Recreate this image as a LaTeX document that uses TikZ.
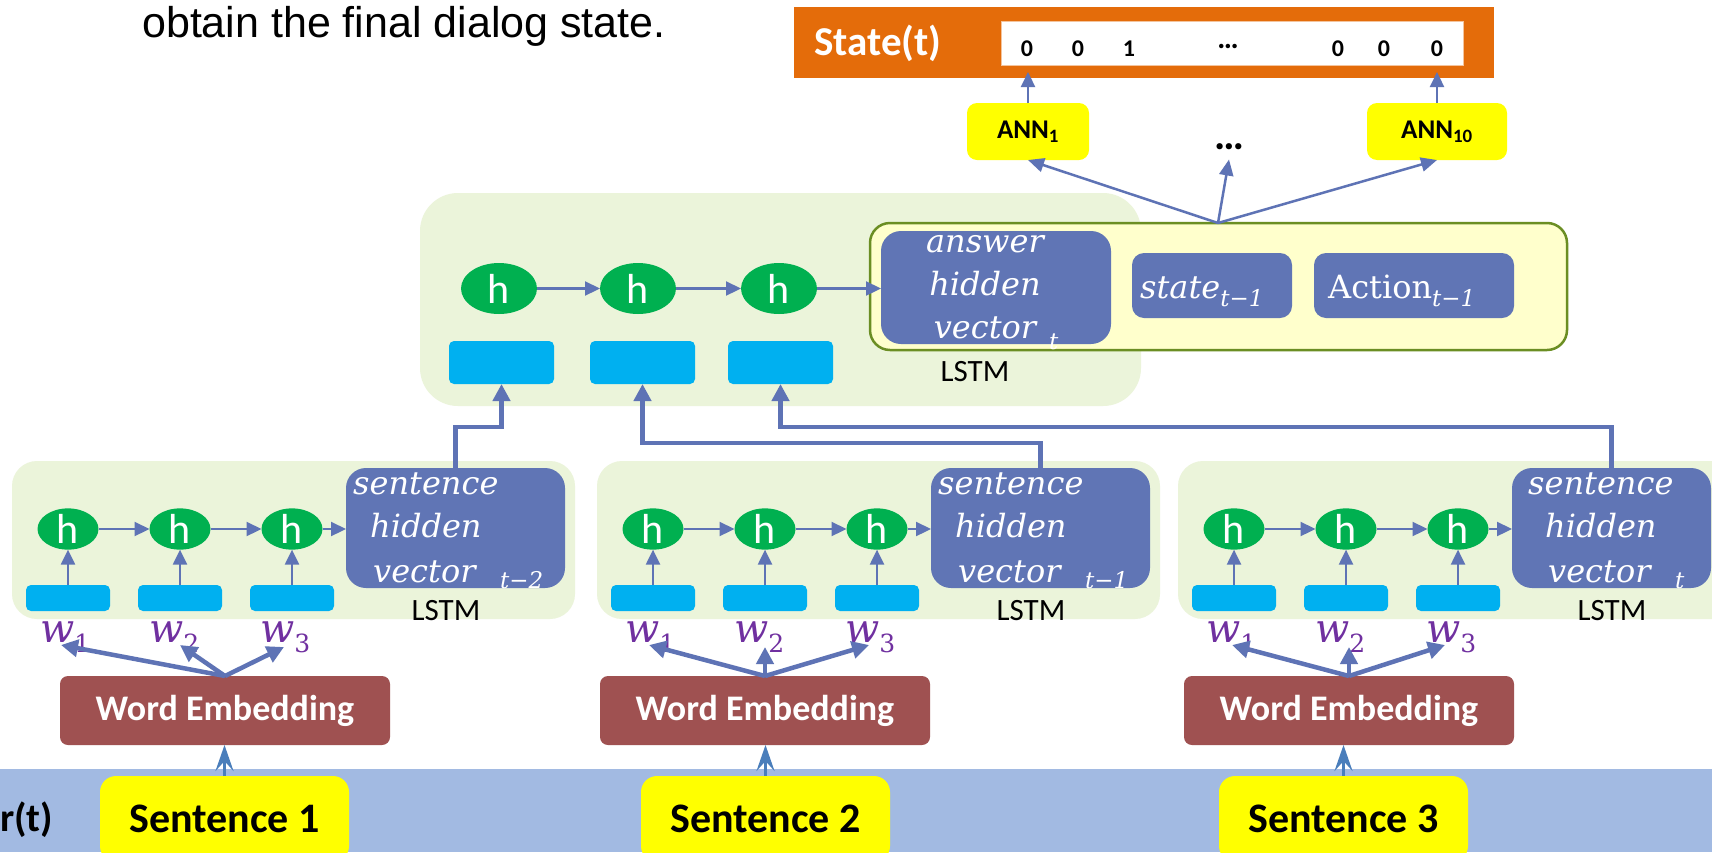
\RequirePackage{fix-cm}
\documentclass[tikz,border=0pt]{standalone}
\usepackage{fontspec}
\newfontfamily\carl{Carlito}
\newfontfamily\arialf{Liberation Sans}
\newfontfamily\cmi{DejaVu Serif}
\usetikzlibrary{arrows.meta,shapes.geometric}
\definecolor{orng}{HTML}{E46C0A}
\definecolor{pgreen}{HTML}{EBF4DA}
\definecolor{hgreen}{HTML}{00B050}
\definecolor{cyanbox}{HTML}{00B0F0}
\definecolor{bluebox}{HTML}{6075B5}
\definecolor{ansbg}{HTML}{FFFFCC}
\definecolor{ansline}{HTML}{6B8E23}
\definecolor{wemb}{HTML}{9F5151}
\definecolor{band}{HTML}{A2BAE2}
\definecolor{arr}{HTML}{5E73B5}
\definecolor{sarr}{HTML}{4A7EBB}
\definecolor{wpurple}{HTML}{7030A0}
\definecolor{ylw}{HTML}{FFFF00}
\newcommand\fsz[1]{\fontsize{#1}{#1}\selectfont}
\newcommand\lowsub[3]{{\fsz{#2}\raisebox{-#1pt}{#3}}}
\newcommand\bx[7]{%
  \pgfmathsetmacro\bxcx{((#3)+(#5))/2}%
  \pgfmathsetmacro\bxcy{((#4)+(#6))/2}%
  \pgfmathsetmacro\bxw{(#5)-(#3)}%
  \pgfmathsetmacro\bxh{(#6)-(#4)}%
  \node[#2,minimum width=\bxw pt,minimum height=\bxh pt,inner sep=0pt,outer sep=0pt] (#1) at (\bxcx,\bxcy) {#7};}
\begin{document}
\begin{tikzpicture}[x=1pt,y=-1pt,
  panelbox/.style={fill=pgreen,rounded corners=25pt},
  toppanel/.style={fill=pgreen,rounded corners=38pt},
  hidbox/.style={fill=bluebox,rounded corners=20pt},
  smallblue/.style={fill=bluebox,rounded corners=12pt},
  cyanrect/.style={fill=cyanbox,rounded corners=5pt},
  hnode/.style={ellipse,fill=hgreen,text=white,font=\carl\fsz{42}},
  vtext/.style={text=white,font=\cmi\itshape\fsz{32},inner sep=0pt,anchor=base west},
  ctext/.style={text=white,font=\cmi\itshape\fsz{32},inner sep=0pt,anchor=base},
  subtext/.style={text=white,font=\cmi\itshape\fsz{23},inner sep=0pt,anchor=base west},
  lstm/.style={font=\carl\fsz{31},inner sep=0pt},
  wlabel/.style={text=wpurple,font=\cmi\itshape\fsz{40},inner sep=0pt,anchor=base west},
  webox/.style={fill=wemb,rounded corners=8pt,text=white,font=\carl\bfseries\fsz{36}},
  sentbox/.style={fill=ylw,rounded corners=16pt,font=\carl\bfseries\fsz{42}},
  annbox/.style={fill=ylw,rounded corners=10pt,font=\carl\bfseries\fsz{27}},
  digit/.style={font=\carl\bfseries\fsz{24},inner sep=0pt,anchor=base},
  thinarr/.style={draw=arr,line width=2.2pt,-{Triangle[length=15pt,width=14pt]}},
  thickarr/.style={draw=arr,line width=4.5pt,-{Triangle[length=17pt,width=17pt]}},
  hubarr/.style={draw=arr,line width=2.5pt,-{Triangle[length=16pt,width=14pt]}},
  sentarr/.style={draw=sarr,line width=3pt,-{Stealth[length=26pt,width=18pt,inset=10pt]}}
]
\useasboundingbox (0,0) rectangle (1712,852);
\fill[white] (0,0) rectangle (1712,852);
\fill[band] (0,769) rectangle (1712,852);

\node[font=\arialf\fsz{43},anchor=base west,inner sep=0pt] (intro) at (142,37) {obtain the final dialog state.};

% state bar
\bx{bar}{fill=orng}{794}{7}{1494}{78}{}
\node[text=white,font=\carl\bfseries\fsz{41},inner sep=0pt] (stlabel) at (878,43) {State(t)};
\bx{vec}{fill=white,draw=orng!40,line width=1pt}{1001}{21}{1463}{65}{}
\node[digit] (d1) at (1027,56) {0};
\node[digit] (d2) at (1078,56) {0};
\node[digit] (d3) at (1129,56) {1};
\node[font=\carl\bfseries\fsz{30},inner sep=0pt,anchor=base] (d4) at (1228,48) {…};
\node[digit] (d5) at (1338,56) {0};
\node[digit] (d6) at (1384,56) {0};
\node[digit] (d7) at (1437,56) {0};

% ANN boxes
\bx{ann1}{annbox}{967}{103}{1089}{160}{ANN\textsubscript{1}}
\bx{ann10}{annbox}{1367}{103}{1507}{160}{ANN\textsubscript{10}}
\node[font=\carl\bfseries\fsz{42},anchor=base,inner sep=0pt] (dots) at (1229,149) {…};

% top panel
\bx{tp}{toppanel}{420}{193}{1141}{406}{}
\bx{te1}{hnode}{461}{263}{537}{314}{h}
\bx{te2}{hnode}{600}{263}{676}{314}{h}
\bx{te3}{hnode}{741}{263}{817}{314}{h}
\bx{tr1}{cyanrect}{449}{341}{554}{384}{}
\bx{tr2}{cyanrect}{590}{341}{695}{384}{}
\bx{tr3}{cyanrect}{728}{341}{833}{384}{}
\node[lstm] (toplstm) at (975,372) {LSTM};

% answer panel
\bx{ansp}{fill=ansbg,draw=ansline,line width=2.5pt,rounded corners=20pt}{870}{223}{1567}{350}{}
\coordinate (hub) at (1218,223);
\bx{ans}{hidbox}{881}{231}{1111}{344}{}
\node[ctext] (a1) at (985,252) {answer};
\node[ctext] (a2) at (985,295) {hidden};
\node[ctext] (a3) at (985,338) {vector};
\node[subtext] (a4) at (1049,349) {t};
\bx{st}{smallblue}{1132}{253}{1292}{318}{}
\node[vtext] (stt) at (1140,298) {state\lowsub{8}{23}{t−1}};
\bx{act}{smallblue}{1314}{253}{1514}{318}{}
\node[vtext,font=\cmi\fsz{32}] (actt) at (1328,298) {Action\lowsub{8}{23}{\itshape t−1}};

\draw[thinarr] (te1) -- (te2);
\draw[thinarr] (te2) -- (te3);
\draw[thinarr] (te3.east) -- (te3.east -| ans.west);

% bottom panels
\foreach \p/\dx/\tdx/\hr/\sub/\wx/\sx in {1/0/0/565/t−2/60/100, 2/585/585/1150/t−1/600/641, 3/1166/1175/1711/t/1184/1219} {
  \bx{bp\p}{panelbox}{12+\dx}{461}{575+\dx}{619}{}
  \bx{hv\p}{hidbox}{346+\dx}{468}{\hr}{588}{}
  \node[vtext] (hs\p) at (353+\tdx,494) {sentence};
  \node[vtext] (hh\p) at (370+\tdx,537) {hidden};
  \node[vtext] (hw\p) at (373+\tdx,582) {vector};
  \node[subtext] (hsub\p) at (500+\tdx,588) {\sub};
  \foreach \k in {1,2,3} {
    \bx{be\p\k}{hnode}{37.5+112*(\k-1)+\dx}{514}{98.5+112*(\k-1)+\dx}{544}{h}
    \bx{br\p\k}{cyanrect}{26+112*(\k-1)+\dx}{585}{110+112*(\k-1)+\dx}{611}{}
    \draw[thinarr] (br\p\k.north) -- (be\p\k.south);
  }
  \draw[thinarr] (be\p1) -- (be\p2);
  \draw[thinarr] (be\p2) -- (be\p3);
  \draw[thinarr] (be\p3.east) -- (be\p3.east -| hv\p.west);
  \node[lstm] (lstm\p) at (446+\dx,611) {LSTM};
  \node[wlabel] (w\p1) at (40+\dx,642) {w\lowsub{10}{25}{\upshape 1}};
  \node[wlabel] (w\p2) at (149+\dx,642) {w\lowsub{10}{25}{\upshape 2}};
  \node[wlabel] (w\p3) at (260+\dx,642) {w\lowsub{10}{25}{\upshape 3}};
  \bx{we\p}{webox}{\wx}{676}{\wx+330}{745}{Word Embedding}
  \bx{s\p}{sentbox}{\sx}{776}{\sx+249}{862}{Sentence \p}
  \draw[sentarr] (s\p.north) -- (s\p.north |- we\p.south);
}

\node[font=\carl\bfseries\fsz{40},anchor=base west,inner sep=0pt] (rt) at (0,831) {r(t)};

% word embedding to words
\coordinate (wt11) at (61,645);
\coordinate (wt12) at (180,645);
\coordinate (wt13) at (284,647);
\coordinate (wt21) at (649,645);
\coordinate (wt22) at (765,647);
\coordinate (wt23) at (869,645);
\coordinate (wt31) at (1232,645);
\coordinate (wt32) at (1349,647);
\coordinate (wt33) at (1445,645);
\foreach \p in {1,2,3}{
  \foreach \k in {1,2,3}{
    \draw[thickarr] (we\p.north) -- (wt\p\k);
  }
}

% sentence vectors to top LSTM
\draw[thickarr] (hv1.north) |- ([yshift=-43pt]tr1.south) -- (tr1.south);
\draw[thickarr] (hv2.north) |- ([yshift=-59pt]tr2.south) -- (tr2.south);
\draw[thickarr] (hv3.north) |- ([yshift=-43pt]tr3.south) -- (tr3.south);

% hub to ANNs
\draw[hubarr] (hub) -- (ann1.south);
\draw[hubarr] (hub) -- ([yshift=-10pt]dots.south);
\draw[hubarr] (hub) -- (ann10.south);
\draw[thinarr] (ann1.north) -- ([yshift=-7pt]vec.south -| ann1.north);
\draw[thinarr] (ann10.north) -- ([yshift=-7pt]vec.south -| ann10.north);
\end{tikzpicture}
\end{document}
